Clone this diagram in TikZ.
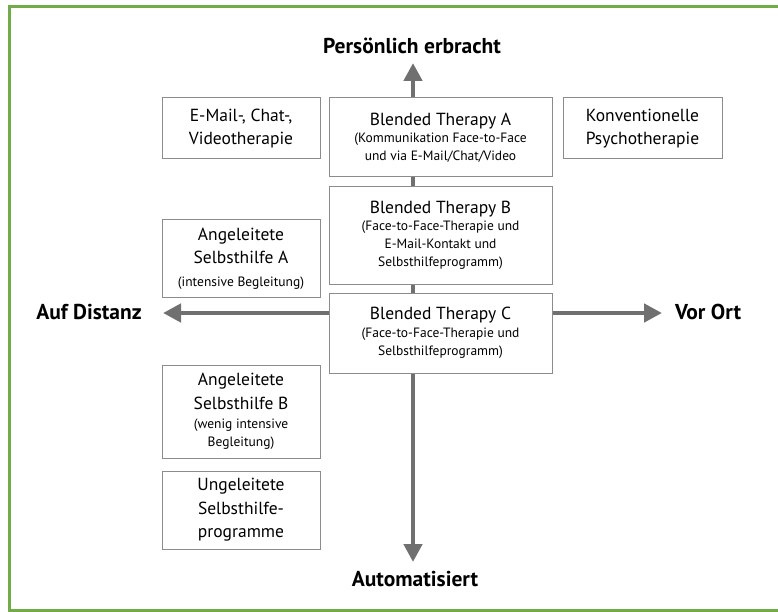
\documentclass[tikz,border=0pt]{standalone}
\usepackage{fontspec}
\setmainfont{PT Sans}
\usetikzlibrary{arrows.meta}

\definecolor{framegreen}{RGB}{112,173,71}
\definecolor{axisgray}{RGB}{112,112,112}
\definecolor{boxgray}{RGB}{140,140,140}

\newcommand{\boxfont}{\fontsize{17.5}{23.5}\selectfont}
\newcommand{\smallf}{\fontsize{13.5}{18}\selectfont}

\tikzset{
  therapybox/.style={draw=boxgray, line width=1pt, align=center, font=\boxfont, inner sep=2pt},
  axisline/.style={draw=axisgray, line width=4.5pt},
  axisarrow/.style={axisline, -{Triangle[width=18pt,length=18pt]}},
  axislabel/.style={font=\fontsize{21.5}{24}\selectfont\bfseries}
}

\begin{document}
\begin{tikzpicture}[x=1pt,y=-1pt]

\useasboundingbox (0,0) rectangle (778,612);
\draw[framegreen, line width=3pt] (9,7) rectangle (790,610);

% boxes
\node[therapybox, minimum width=158pt, minimum height=61pt] (email) at (241,128.5) {E-Mail-, Chat-,\\ Videotherapie};
\node[therapybox, minimum width=223pt, minimum height=79pt] (blendA) at (440.5,137.5) {Blended Therapy A\\[-6pt] {\smallf (Kommunikation Face-to-Face}\\[-5.5pt] {\smallf und via E-Mail/Chat/Video}};
\node[therapybox, minimum width=159pt, minimum height=61pt] (konv) at (642.5,128.5) {Konventionelle\\ Psychotherapie};
\node[therapybox, minimum width=223pt, minimum height=97pt] (blendB) at (440.5,235.5) {Blended Therapy B\\[-6pt] {\smallf (Face-to-Face-Therapie und}\\[-5.5pt] {\smallf E-Mail-Kontakt und}\\[-5.5pt] {\smallf Selbsthilfeprogramm)}};
\node[therapybox, minimum width=158pt, minimum height=77pt] (angA) at (241,258.5) {Angeleitete\\ Selbsthilfe A\\[-1pt] {\smallf (intensive Begleitung)}};
\node[therapybox, minimum width=223pt, minimum height=80pt] (blendC) at (440.5,333) {Blended Therapy C\\[-6pt] {\smallf (Face-to-Face-Therapie und}\\[-5.5pt] {\smallf Selbsthilfeprogramm)}};
\node[therapybox, minimum width=158pt, minimum height=93pt] (angB) at (241,411.5) {Angeleitete\\ Selbsthilfe B\\[-4pt] {\smallf (wenig intensive}\\[-5.5pt] {\smallf Begleitung)}};
\node[therapybox, minimum width=158pt, minimum height=78pt] (unge) at (241,510) {Ungeleitete\\ Selbsthilfe-\\ programme};

% axis ends and labels
\coordinate (top) at (413,63);
\coordinate (bottom) at (413,562);
\coordinate (left) at (163,313);
\coordinate (right) at (662,313);
\node[axislabel] (persoenlich) at (412,46) {Persönlich erbracht};
\node[axislabel] (auto) at (415,579) {Automatisiert};
\node[axislabel] (distanz) at (89,312) {Auf Distanz};
\node[axislabel] (vorort) at (708,312) {Vor Ort};

% axes
\draw[axisarrow] (blendA.north -| top) -- (top);
\draw[axisline] (blendA.south -| top) -- (blendB.north -| top);
\draw[axisline] (blendB.south -| top) -- (blendC.north -| top);
\draw[axisarrow] (blendC.south -| bottom) -- (bottom);
\draw[axisarrow] (blendC.west |- left) -- (left);
\draw[axisarrow] (blendC.east |- right) -- (right);

\end{tikzpicture}
\end{document}
